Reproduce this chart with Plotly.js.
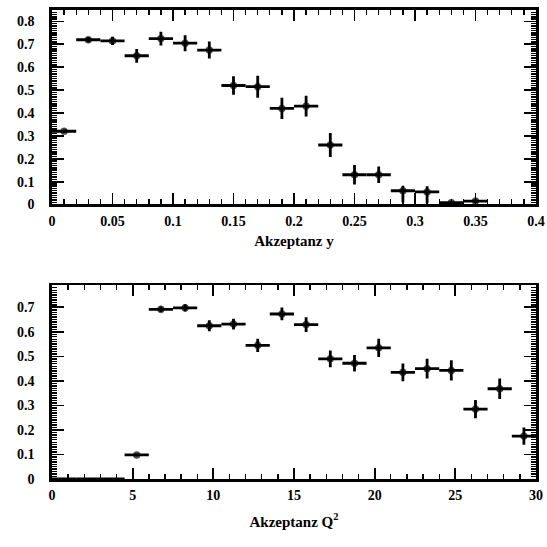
<!DOCTYPE html>
<html>
<head>
<meta charset="utf-8">
<script src="https://cdn.plot.ly/plotly-3.0.1.min.js"></script>
<style>html,body{margin:0;padding:0;background:#fff;}#chart{width:547px;height:547px;}</style>
</head>
<body>
<div id="chart"></div>
<script>
// ---- Top panel: acceptance vs y ----
const yCenters = [0.01,0.03,0.05,0.07,0.09,0.11,0.13,0.15,0.17,0.19,0.21,0.23,0.25,0.27,0.29,0.31,0.33,0.35];
const yAcc     = [0.32,0.72,0.715,0.65,0.725,0.705,0.675,0.52,0.515,0.42,0.43,0.26,0.13,0.13,0.06,0.055,0.008,0.015];
const yErrUp   = [0.008,0.012,0.018,0.03,0.03,0.035,0.037,0.04,0.048,0.046,0.045,0.052,0.043,0.036,0.022,0.025,0.004,0.008];
const yErrDown = [0.008,0.012,0.018,0.03,0.03,0.035,0.037,0.04,0.048,0.046,0.045,0.052,0.043,0.036,0.05,0.05,0.004,0.008];
const yBinHalf = [0.01,0.01,0.01,0.01,0.01,0.01,0.01,0.01,0.01,0.01,0.01,0.01,0.01,0.01,0.01,0.01,0.01,0.01];

// ---- Bottom panel: acceptance vs Q^2 ----
const q2Centers = [0.75,2.25,3.75,5.25,6.75,8.25,9.75,11.25,12.75,14.25,15.75,17.25,18.75,20.25,21.75,23.25,24.75,26.25,27.75,29.25];
const q2Acc     = [0,0,0,0.098,0.692,0.698,0.625,0.632,0.545,0.673,0.63,0.49,0.472,0.535,0.435,0.45,0.443,0.285,0.368,0.175];
const q2Err     = [0,0,0,0.005,0.012,0.015,0.022,0.022,0.027,0.026,0.03,0.034,0.034,0.037,0.036,0.04,0.041,0.037,0.042,0.035];
const q2BinHalf = [0.75,0.75,0.75,0.75,0.75,0.75,0.75,0.75,0.75,0.75,0.75,0.75,0.75,0.75,0.75,0.75,0.75,0.75,0.75,0.75];

const yTitle  = 'Akzeptanz y';
const q2Title = 'Akzeptanz Q<sup>2</sup>';

const FONT = 'Liberation Serif, Times New Roman, serif';
const errStyle = {color:'black', thickness:2.8, width:0};
const MS = 7;
const sizesFor = vals => vals.map(v => v > 0 ? MS : 0);

const traces = [
  {
    x: yCenters, y: yAcc, type:'scatter', mode:'markers',
    xaxis:'x', yaxis:'y',
    marker:{color:'black', size:sizesFor(yAcc), symbol:'circle', line:{color:'black', width:0.5}},
    error_y:Object.assign({type:'data', symmetric:false, array:yErrUp, arrayminus:yErrDown}, errStyle),
    error_x:Object.assign({type:'data', array:yBinHalf}, errStyle),
    cliponaxis:true, showlegend:false, hoverinfo:'x+y'
  },
  {
    x: q2Centers, y: q2Acc, type:'scatter', mode:'markers',
    xaxis:'x2', yaxis:'y2',
    marker:{color:'black', size:sizesFor(q2Acc), symbol:'circle', line:{color:'black', width:0.5}},
    error_y:Object.assign({type:'data', array:q2Err}, errStyle),
    error_x:Object.assign({type:'data', array:q2BinHalf}, errStyle),
    cliponaxis:true, showlegend:false, hoverinfo:'x+y'
  }
];

const tickFont = {family:FONT, size:14, color:'black', weight:'bold'};
const titleFont = {family:FONT, size:15, color:'black', weight:'bold'};

function axisBase(){
  return {
    showline:true, linecolor:'black', linewidth:2.6, mirror:'allticks',
    ticks:'inside', tickcolor:'black', tickwidth:1.8,
    showgrid:false, zeroline:false, tickfont:tickFont, fixedrange:true
  };
}
const minorStyle = {ticklen:5, tickwidth:1.4, tickcolor:'black', ticks:'inside', showgrid:false};

const layout = {
  width:547, height:547,
  margin:{l:52, r:11, t:10, b:68},
  paper_bgcolor:'white', plot_bgcolor:'white',
  font:{family:FONT, color:'black'},
  showlegend:false,
  xaxis: Object.assign(axisBase(), {
    domain:[0,1], anchor:'y', range:[0,0.4], dtick:0.05, tick0:0, ticklen:11,
    minor:Object.assign({dtick:0.01}, minorStyle),
    title:{text:yTitle, font:titleFont, standoff:8}, ticklabelstandoff:2
  }),
  yaxis: Object.assign(axisBase(), {
    domain:[0.5853,1], anchor:'x', range:[0,0.85], dtick:0.1, tick0:0, ticklen:12,
    minor:Object.assign({dtick:0.01}, minorStyle),
    ticklabelstandoff:12
  }),
  xaxis2: Object.assign(axisBase(), {
    domain:[0,1], anchor:'y2', range:[0,30], dtick:5, tick0:0, ticklen:11,
    minor:Object.assign({dtick:1}, minorStyle),
    title:{text:q2Title, font:titleFont, standoff:14}, ticklabelstandoff:2
  }),
  yaxis2: Object.assign(axisBase(), {
    domain:[0,0.413], anchor:'x2', range:[0,0.79], dtick:0.1, tick0:0, ticklen:12,
    minor:Object.assign({dtick:0.01}, minorStyle),
    ticklabelstandoff:12
  })
};

Plotly.newPlot('chart', traces, layout, {staticPlot:true, displayModeBar:false});
</script>
</body>
</html>
